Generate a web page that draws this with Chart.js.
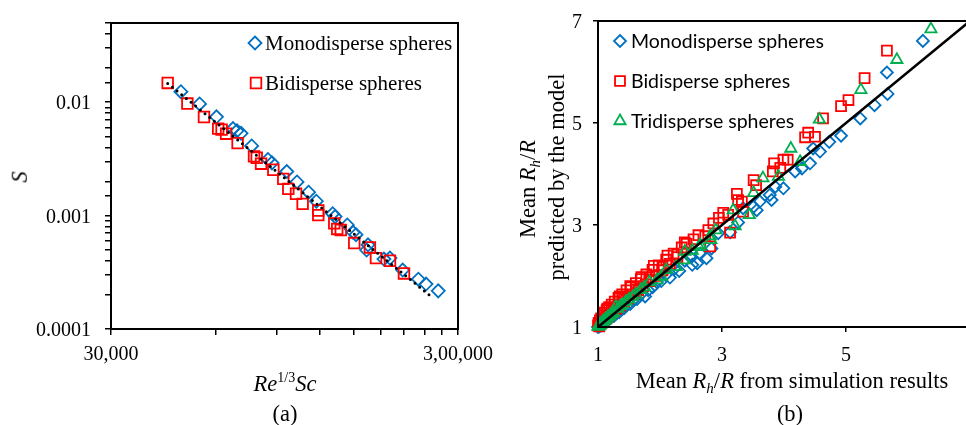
<!DOCTYPE html>
<html>
<head>
<meta charset="utf-8">
<script src="https://cdn.jsdelivr.net/npm/chart.js"></script>
<style>
  html, body { margin: 0; padding: 0; background: #fff; overflow: hidden; }
  #wrap { position: relative; width: 966px; height: 425px; overflow: hidden; }
  canvas { position: absolute; top: 0; }
  #chartA { left: 0; }
  #chartB { left: 480px; }
  .lbl, .tick, .leg { position: absolute; font-family: 'Liberation Serif', 'Times New Roman', serif; color: #000;
         white-space: nowrap; line-height: 1; }
  .lbl { font-size: 22.5px; transform: translate(-50%, -50%); }
  .tick { font-size: 20px; }
  .leg { font-size: 21px; transform: translate(0, -50%); }
  .leg.sans { font-family: Lato, 'Liberation Sans', sans-serif; font-size: 19.5px; }
  .rot { transform: translate(-50%, -50%) rotate(-90deg); }
  .sup { font-size: 14px; position: relative; top: -9px; font-style: normal; }
  .sub { font-size: 15px; position: relative; top: 5px; }
</style>
</head>
<body>
<div id="wrap">
  <canvas id="chartA" width="520" height="425"></canvas>
  <canvas id="chartB" width="500" height="425"></canvas>

  <div class="lbl rot" style="left:20px; top:177px;"><i>S</i></div>
  <div class="lbl" style="left:285px; top:384px;"><i>Re</i><span class="sup">1/3</span><i>Sc</i></div>
  <div class="lbl" style="left:285px; top:414px;">(a)</div>

  <div class="lbl rot" style="left:528px; top:189px;">Mean <i>R</i><i class="sub">h</i>/<i>R</i></div>
  <div class="lbl rot" style="left:557px; top:177px;">predicted by the model</div>
  <div class="lbl" style="left:792px; top:381px;">Mean <i>R</i><i class="sub">h</i>/<i>R</i> from simulation results</div>
  <div class="lbl" style="left:790px; top:414px;">(b)</div>
</div>

<script>
// ---- (a) S vs Re^(1/3)Sc ----
const monoRe = [47700, 54000, 60400, 67400, 69200, 71100, 76300, 85000, 87300, 96300, 103100, 111300, 117200,
                130600, 132700, 143900, 149500, 152500, 163600, 165100, 183500, 191000, 207800, 230600, 242600, 263100];
const monoS  = [0.01238, 0.00966, 0.00744, 0.00585, 0.00560, 0.00532, 0.00412, 0.00313, 0.00292, 0.00245, 0.00198, 0.00161, 0.00134,
                0.00104, 0.00098, 0.000827, 0.000712, 0.000679, 0.000497, 0.000553, 0.000414, 0.000422, 0.000331, 0.000275, 0.000249, 0.000217];
const biRe = [43700, 49800, 55600, 61100, 62500, 64400, 69500, 77500, 78900, 81200, 88100, 94100, 97300,
              102400, 107000, 118700, 118700, 132000, 134600, 137800, 150700, 167200, 174100, 191000, 209600];
const biS  = [0.0148, 0.00974, 0.00741, 0.00585, 0.00573, 0.00528, 0.00436, 0.00333, 0.00324, 0.00287, 0.00254, 0.00211, 0.00172,
              0.00156, 0.00127, 0.00111, 0.00101, 0.000855, 0.000763, 0.000747, 0.000573, 0.000524, 0.000422, 0.000400, 0.000309];
const fitRe = [43700, 253600];
const fitS  = [0.01464, 0.000189];

const reTicks = [30000, 60000, 90000, 120000, 150000, 180000, 210000, 240000, 270000, 300000];
const reTickLabels = ['30,000', '', '', '', '', '', '', '', '', '3,00,000'];
const sTicks = [0.0001, 0.001, 0.01];
const sTickLabels = ['0.0001', '0.001', '0.01'];

// ---- (b) model vs simulation ----
const monoSim = [1.00, 1.02, 1.03, 1.05, 1.06, 1.08, 1.10, 1.12, 1.15, 1.17, 1.20, 1.23, 1.26, 1.30, 1.34, 1.38, 1.42, 1.47, 1.52, 1.57,
                 1.63, 1.69, 1.76, 1.81, 1.88, 1.95, 2.02, 2.09, 2.16, 2.23, 2.31, 2.40, 2.48, 2.52, 2.60, 2.65, 2.75, 2.83, 2.94, 3.13,
                 3.26, 3.34, 3.51, 3.56, 3.61, 3.77, 3.80, 3.86, 3.99, 4.18, 4.29, 4.42, 4.47, 4.58, 4.73, 4.92, 5.23, 5.46, 5.67, 5.66, 6.24];
const monoModel = [1.00, 1.01, 1.03, 1.03, 1.06, 1.06, 1.09, 1.10, 1.13, 1.15, 1.17, 1.21, 1.22, 1.27, 1.29, 1.35, 1.37, 1.43, 1.45, 1.53,
                   1.55, 1.64, 1.60, 1.72, 1.78, 1.88, 1.90, 2.02, 1.97, 2.14, 2.10, 2.30, 2.38, 2.22, 2.25, 2.44, 2.35, 2.54, 2.84, 2.86,
                   3.05, 3.33, 3.36, 3.29, 3.46, 3.59, 3.49, 3.75, 3.72, 4.05, 4.11, 4.21, 4.50, 4.44, 4.63, 4.75, 5.09, 5.35, 5.57, 5.99, 6.61];

const biSim = [1.00, 1.01, 1.02, 1.03, 1.04, 1.05, 1.06, 1.08, 1.09, 1.11, 1.12, 1.14, 1.16, 1.18, 1.20, 1.22, 1.25, 1.27, 1.30, 1.33,
               1.36, 1.39, 1.42, 1.46, 1.49, 1.53, 1.57, 1.61, 1.65, 1.69, 1.73, 1.78, 1.83, 1.88, 1.93, 1.98, 2.04, 2.10, 2.16, 2.22,
               2.28, 2.35, 2.43, 2.54, 2.62, 1.25, 1.42, 1.61, 1.83, 2.04, 2.28, 1.15, 1.35, 1.52, 1.70, 1.90, 2.12, 2.40, 2.73, 2.78,
               2.81, 2.86, 2.95, 3.02, 3.10, 3.13, 3.24, 3.26, 3.34, 3.32, 3.51, 3.55, 3.82, 3.84, 3.94, 3.99, 4.06, 4.34, 4.39, 4.50,
               4.63, 4.92, 5.04, 5.30, 5.66];
const biModel = [1.03, 1.08, 1.01, 1.13, 1.05, 1.17, 1.09, 1.23, 1.12, 1.28, 1.16, 1.33, 1.20, 1.39, 1.25, 1.44, 1.30, 1.50, 1.36, 1.57,
                 1.42, 1.64, 1.49, 1.72, 1.56, 1.78, 1.64, 1.86, 1.72, 1.94, 1.80, 2.03, 1.90, 2.12, 2.00, 2.21, 2.11, 2.32, 2.24, 2.44,
                 2.37, 2.56, 2.63, 2.72, 2.80, 1.34, 1.54, 1.74, 1.97, 2.18, 2.42, 1.36, 1.60, 1.80, 1.98, 2.20, 2.40, 2.66, 2.78, 2.90,
                 2.58, 3.03, 3.14, 3.24, 3.20, 2.85, 3.61, 3.49, 3.26, 3.46, 3.88, 3.78, 4.05, 4.21, 4.12, 4.28, 4.28, 4.72, 4.81, 4.73,
                 5.09, 5.33, 5.45, 5.88, 6.42];

const triSim = [1.00, 1.01, 1.02, 1.03, 1.04, 1.05, 1.07, 1.08, 1.10, 1.12, 1.14, 1.16, 1.19, 1.22, 1.25, 1.29, 1.32, 1.36, 1.40, 1.45,
                1.50, 1.56, 1.61, 1.69, 1.75, 1.83, 1.95, 2.02, 2.10, 2.26, 2.39, 2.40, 2.52, 2.63, 2.65, 2.82, 2.81, 2.90, 3.18, 3.21,
                3.44, 3.51, 3.66, 3.91, 4.11, 4.26, 4.57, 5.24, 5.82, 6.37];
const triModel = [1.01, 1.03, 1.02, 1.05, 1.04, 1.07, 1.08, 1.11, 1.12, 1.15, 1.16, 1.20, 1.22, 1.26, 1.28, 1.40, 1.36, 1.41, 1.44, 1.50,
                  1.54, 1.59, 1.64, 1.73, 1.78, 1.88, 1.92, 1.99, 2.12, 2.18, 2.31, 2.48, 2.50, 2.57, 2.61, 2.71, 2.78, 2.90, 3.29, 2.98,
                  3.20, 3.63, 3.92, 3.95, 4.50, 4.24, 5.07, 5.65, 6.24, 6.84];

const parityLine = [1, 7];
const axisTicksB = [1, 3, 5, 7];

const BLUE = '#0070C0', RED = '#FF0000', GREEN = '#00B050';
const wrap = document.getElementById('wrap');

function pts(xs, ys) { return xs.map((x, i) => ({ x: x, y: ys[i] })); }

// html text placed on the page; anchor: 'c' centre, 'r' right end, 'l' left start
function addText(cls, text, x, y, anchor) {
  const d = document.createElement('div');
  d.className = cls;
  d.textContent = text;
  d.style.left = x + 'px';
  d.style.top = y + 'px';
  d.style.transform = anchor === 'r' ? 'translate(-100%,-50%)' : anchor === 'l' ? 'translate(0,-50%)' : 'translate(-50%,-50%)';
  wrap.appendChild(d);
}

function marker(ctx, style, x, y, r) {
  ctx.beginPath();
  if (style === 'rectRot') {
    ctx.moveTo(x, y - r); ctx.lineTo(x + r, y); ctx.lineTo(x, y + r); ctx.lineTo(x - r, y); ctx.closePath();
  } else if (style === 'rect') {
    const s = r * Math.SQRT1_2;
    ctx.rect(x - s, y - s, 2 * s, 2 * s);
  } else {
    for (let i = 0; i < 3; i++) {
      const a = i * 2 * Math.PI / 3;
      const px = x + Math.sin(a) * r, py = y - Math.cos(a) * r;
      if (i) ctx.lineTo(px, py); else ctx.moveTo(px, py);
    }
    ctx.closePath();
  }
  ctx.stroke();
}

// frame around the plot area
const boxPlugin = {
  id: 'box',
  afterDraw(chart) {
    const a = chart.chartArea, ctx = chart.ctx;
    ctx.save();
    ctx.strokeStyle = '#000';
    ctx.lineWidth = 2;
    ctx.strokeRect(a.left, a.top, a.right - a.left, a.bottom - a.top);
    ctx.restore();
  }
};

// legend symbols inside the plot area (the words are html)
const legendMarks = {
  id: 'legendMarks',
  afterDraw(chart, args, opts) {
    const ctx = chart.ctx;
    ctx.save();
    ctx.lineWidth = 1.8;
    opts.items.forEach(it => {
      ctx.strokeStyle = it.color;
      marker(ctx, it.style, it.mx, it.y, it.r);
    });
    ctx.restore();
  }
};

const scatterSet = (label, data, color, style, r, order) => ({
  type: 'scatter', label: label, data: data, order: order,
  pointStyle: style, pointRadius: r, pointHoverRadius: r,
  pointBorderColor: color, pointBackgroundColor: 'rgba(0,0,0,0)', pointBorderWidth: 1.8,
  borderColor: color, backgroundColor: 'rgba(0,0,0,0)', showLine: false, clip: false
});

const noSidePad = s => { s.paddingLeft = 0; s.paddingRight = 0; };
const noEndPad = s => { s.paddingTop = 0; s.paddingBottom = 0; };
const blackGrid = { drawOnChartArea: false, tickLength: 6, color: '#000', lineWidth: 1.5 };

const legendA = [
  { text: 'Monodisperse spheres', style: 'rectRot', color: BLUE, r: 6.5, mx: 255, tx: 265, y: 43 },
  { text: 'Bidisperse spheres', style: 'rect', color: RED, r: 7.5, mx: 256, tx: 265, y: 83 }
];
const legendB = [
  { text: 'Monodisperse spheres', style: 'rectRot', color: BLUE, r: 6, mx: 140, tx: 151, y: 41 },
  { text: 'Bidisperse spheres', style: 'rect', color: RED, r: 7, mx: 140, tx: 151, y: 81 },
  { text: 'Tridisperse spheres', style: 'triangle', color: GREEN, r: 6.5, mx: 140, tx: 151, y: 121 }
];

const chartA = new Chart(document.getElementById('chartA'), {
  data: {
    datasets: [
      {
        type: 'line', label: 'fit', data: pts(fitRe, fitS), order: 0,
        borderColor: '#000', borderWidth: 3, borderDash: [0, 6], borderCapStyle: 'round',
        pointRadius: 0, fill: false, clip: false
      },
      scatterSet('Bidisperse spheres', pts(biRe, biS), RED, 'rect', 7.5, 1),
      scatterSet('Monodisperse spheres', pts(monoRe, monoS), BLUE, 'rectRot', 6.5, 2)
    ]
  },
  options: {
    responsive: false,
    animation: false,
    events: [],
    layout: { padding: { left: 0, right: 62, top: 23, bottom: 0 } },
    scales: {
      x: {
        type: 'logarithmic', min: 30000, max: 300000,
        afterBuildTicks: s => { s.ticks = reTicks.map(v => ({ value: v })); },
        afterFit: s => { s.height = 96; noSidePad(s); },
        border: { color: '#000', width: 2 },
        grid: blackGrid,
        ticks: { display: false }
      },
      y: {
        type: 'logarithmic', min: 0.0001, max: 0.05,
        afterFit: s => { s.width = 111; noEndPad(s); },
        border: { color: '#000', width: 2 },
        grid: blackGrid,
        ticks: { display: false }
      }
    },
    plugins: {
      legend: { display: false },
      tooltip: { enabled: false },
      legendMarks: { items: legendA }
    }
  },
  plugins: [boxPlugin, legendMarks]
});

const chartB = new Chart(document.getElementById('chartB'), {
  data: {
    datasets: [
      {
        type: 'line', label: 'y = x', data: pts(parityLine, parityLine), order: 0,
        borderColor: '#000', borderWidth: 2.5, pointRadius: 0, fill: false, clip: false
      },
      scatterSet('Tridisperse spheres', pts(triSim, triModel), GREEN, 'triangle', 6.5, 1),
      scatterSet('Bidisperse spheres', pts(biSim, biModel), RED, 'rect', 7, 2),
      scatterSet('Monodisperse spheres', pts(monoSim, monoModel), BLUE, 'rectRot', 6, 3)
    ]
  },
  options: {
    responsive: false,
    animation: false,
    events: [],
    layout: { padding: { left: 0, right: 10, top: 21, bottom: 0 } },
    scales: {
      x: {
        type: 'linear', min: 1, max: 7,
        afterBuildTicks: s => { s.ticks = axisTicksB.map(v => ({ value: v })); },
        afterFit: s => { s.height = 98; noSidePad(s); },
        border: { color: '#000', width: 2 },
        grid: Object.assign({}, blackGrid, { tickLength: 5 }),
        ticks: { display: false }
      },
      y: {
        type: 'linear', min: 1, max: 7,
        afterBuildTicks: s => { s.ticks = axisTicksB.map(v => ({ value: v })); },
        afterFit: s => { s.width = 118; noEndPad(s); },
        border: { color: '#000', width: 2 },
        grid: Object.assign({}, blackGrid, { tickLength: 5 }),
        ticks: { display: false }
      }
    },
    plugins: {
      legend: { display: false },
      tooltip: { enabled: false },
      legendMarks: { items: legendB }
    }
  },
  plugins: [boxPlugin, legendMarks]
});

// tick labels from the chart scales
const offB = 480;
reTicks.forEach((v, i) => {
  if (reTickLabels[i]) addText('tick', reTickLabels[i], chartA.scales.x.getPixelForValue(v), chartA.chartArea.bottom + 24, 'c');
});
sTicks.forEach((v, i) => {
  addText('tick', sTickLabels[i], chartA.chartArea.left - 20, chartA.scales.y.getPixelForValue(v), 'r');
});
axisTicksB.forEach(v => {
  addText('tick', String(v), offB + chartB.scales.x.getPixelForValue(v), chartB.chartArea.bottom + 27, 'c');
  addText('tick', String(v), offB + chartB.chartArea.left - 16, chartB.scales.y.getPixelForValue(v), 'r');
});

// legend words
legendA.forEach(it => addText('leg', it.text, it.tx, it.y, 'l'));
legendB.forEach(it => addText('leg sans', it.text, offB + it.tx, it.y, 'l'));
</script>
</body>
</html>
